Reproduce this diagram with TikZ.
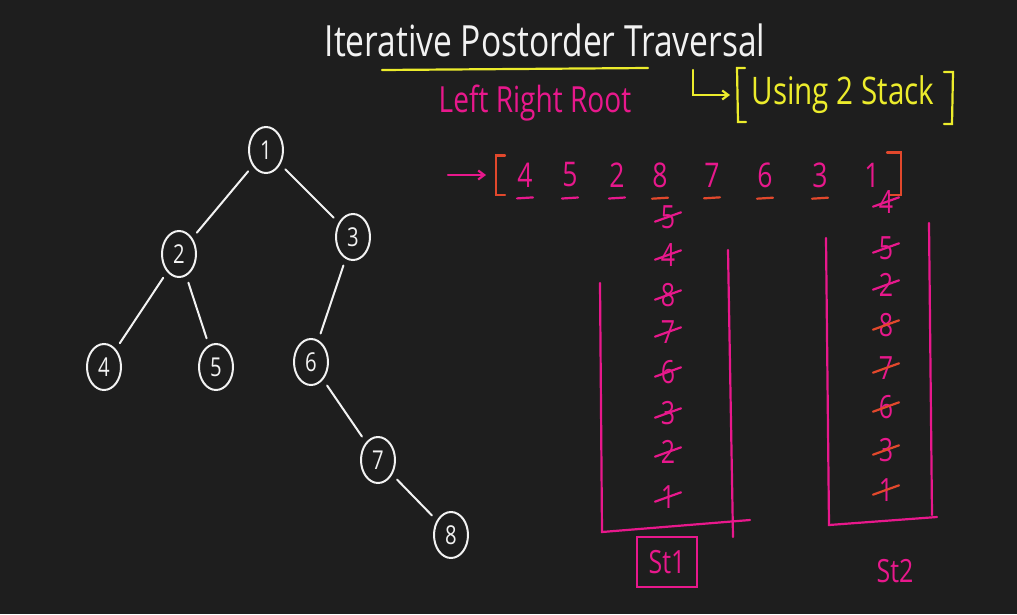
\documentclass[tikz,border=0pt]{standalone}
\usepackage{fontspec}
\setmainfont[FakeStretch=0.78]{Open Sans}
\usepackage{xcolor}
\usetikzlibrary{positioning, arrows.meta, shapes.geometric, fit}
\definecolor{board}{RGB}{30,30,30}
\definecolor{chalk}{RGB}{242,242,242}
\definecolor{pinkink}{RGB}{232,24,140}
\definecolor{redink}{RGB}{226,72,44}
\definecolor{yellowink}{RGB}{236,236,44}

\begin{document}
\begin{tikzpicture}[
      x=1pt, y=-1pt,
      tnode/.style={ellipse, draw=chalk, line width=2pt, minimum width=34pt, minimum height=46pt, inner sep=0pt, text=chalk, font=\fontsize{26}{26}\selectfont},
      tedge/.style={draw=chalk, line width=2pt, line cap=round, shorten <=7pt, shorten >=7pt},
      ink/.style={line width=2.2pt, line cap=round},
      anum/.style={text=pinkink, inner sep=1pt, font=\fontsize{34}{34}\selectfont},
      snum/.style={text=pinkink, inner sep=1pt, font=\fontsize{32}{32}\selectfont},
      strike/.style={ink, shorten <=-5pt, shorten >=-5pt},
      arr/.style={-{Straight Barb[length=6pt, width=9pt]}}
    ]
    \useasboundingbox[fill=board] (0,0) rectangle (1017,614);

    % heading
    \node[text=chalk, font=\fontsize{43}{43}\selectfont] (title) at (545,40) {Iterative Postorder Traversal};
    \draw[ink, yellowink] (382,70) -- (648,68);
    \node[text=pinkink, font=\fontsize{36}{36}\selectfont] (order) at (535,103) {Left Right Root};
    \node[text=yellowink, font=\fontsize{38}{38}\selectfont] (using) at (843,95) {Using 2 Stack};
    \draw[ink, yellowink] (745,68) -- (737,68) -- (738,122) -- (746,122);
    \draw[ink, yellowink] (944,72) -- (953,72) -- (952,124) -- (944,124);
    \coordinate (hook) at (693,70);
    \draw[ink, yellowink, arr] (hook) |- ([xshift=-18pt]using.west);

    % tree
    \node[tnode] (n1) at (266,150) {1};
    \node[tnode] (n2) at (179,254) {2};
    \node[tnode] (n3) at (353,237) {3};
    \node[tnode] (n4) at (104,367) {4};
    \node[tnode] (n5) at (216,367) {5};
    \node[tnode] (n6) at (311,362) {6};
    \node[tnode] (n7) at (378,460) {7};
    \node[tnode] (n8) at (451,535) {8};

    \draw[tedge] (n1) -- (n2);
    \draw[tedge] (n1) -- (n3);
    \draw[tedge] (n2) -- (n4);
    \draw[tedge] (n2) -- (n5);
    \draw[tedge] (n3) -- (n6);
    \draw[tedge] (n6) -- (n7);
    \draw[tedge] (n7) -- (n8);

    % postorder output
    \foreach \v/\x [count=\i] in {4/525,5/570,2/617,8/660,7/712,6/765,3/820,1/872}
      \node[anum] (a\i) at (\x,175) {\v};
    \node[fit=(a1)(a8), inner xsep=20pt, inner ysep=6pt] (arrbox) {};
    \draw[ink, redink] ([xshift=9pt]arrbox.north west) -- (arrbox.north west) -- (arrbox.south west) -- ([xshift=9pt]arrbox.south west);
    \draw[ink, redink] ([xshift=-14pt,yshift=3pt]arrbox.north east) -- ([yshift=3pt]arrbox.north east) -- (arrbox.south east) -- ([xshift=-12pt]arrbox.south east);
    \draw[ink, pinkink, arr] ([xshift=-48pt]arrbox.west) -- ([xshift=-10pt]arrbox.west);
    \foreach \i/\c in {1/pinkink,2/pinkink,3/pinkink,4/redink,5/redink,6/redink,7/redink}
      \draw[ink, \c] ([xshift=-8pt,yshift=-10pt]a\i.south) -- ([xshift=8pt,yshift=-9pt]a\i.south);

    % stack 1
    \foreach \v/\y [count=\i] in {5/217,4/255,8/295,7/332,6/372,3/413,2/452,1/497}
      \node[snum] (sa\i) at (668,\y) {\v};
    \foreach \i in {1,...,8}
      \draw[strike, pinkink] ([yshift=-3pt]sa\i.west) -- ([yshift=3pt]sa\i.east);
    \draw[ink, pinkink] (600,283) -- (602,532) -- (750,520);
    \draw[ink, pinkink] (728,250) -- (733,537);
    \node[snum, ink, draw=pinkink, minimum width=60pt, minimum height=50pt] (st1) at (667,562) {St1};

    % stack 2
    \foreach \v/\y [count=\i] in {4/202,5/248,2/285,8/325,7/368,6/407,3/450,1/490}
      \node[snum] (sb\i) at (886,\y) {\v};
    \foreach \i/\c in {1/pinkink,2/pinkink,3/pinkink,4/redink,5/redink,6/redink,7/redink,8/redink}
      \draw[strike, \c] ([yshift=-3pt]sb\i.west) -- ([yshift=3pt]sb\i.east);
    \draw[ink, pinkink] (826,238) -- (829,525) -- (937,517);
    \draw[ink, pinkink] (929,223) -- (932,515);
    \node[snum] (st2) at (895,571) {St2};
  \end{tikzpicture}
\end{document}
